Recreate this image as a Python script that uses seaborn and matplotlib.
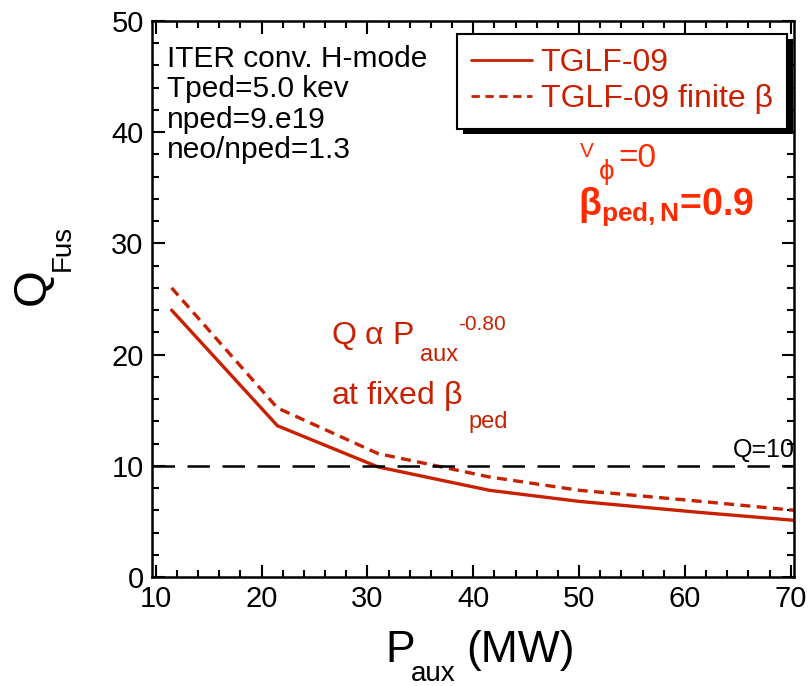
import matplotlib
matplotlib.use("Agg")
import matplotlib.pyplot as plt
import matplotlib.patches as mpatches
import seaborn as sns
import pandas as pd
from matplotlib.ticker import MultipleLocator
from matplotlib.lines import Line2D

# data
p_aux = [11.5, 21.5, 31.0, 41.5, 50.0, 61.5, 70.3]
q_tglf = [24.0, 13.6, 9.9, 7.8, 6.8, 5.8, 5.1]
q_tglf_beta = [26.0, 15.2, 11.1, 9.0, 7.8, 6.8, 6.0]
series_names = ["TGLF-09", "TGLF-09 finite β"]
x_ticks = [10, 20, 30, 40, 50, 60, 70]
y_ticks = [0, 10, 20, 30, 40, 50]
q_ref = 10

sns.set_theme(style="white")
plt.rcParams['font.family'] = ['Liberation Sans', 'DejaVu Sans']
plt.rcParams['mathtext.fontset'] = 'custom'
plt.rcParams['mathtext.rm'] = 'Liberation Sans'
plt.rcParams['mathtext.it'] = 'Liberation Sans'
plt.rcParams['mathtext.bf'] = 'Liberation Sans:bold'
plt.rcParams['text.color'] = 'black'
plt.rcParams['xtick.color'] = 'black'
plt.rcParams['ytick.color'] = 'black'

red = '#c82000'
bright = '#ff2a00'

W, H = 810, 686
fig = plt.figure(figsize=(W / 100, H / 100), dpi=100)
ax = fig.add_axes([152/W, 1-577/H, (794-152)/W, (577-21)/H])

def px(x, y):
    return x / W, 1 - y / H

df = pd.DataFrame({"P": p_aux * 2,
                   "Q": q_tglf + q_tglf_beta,
                   "case": [series_names[0]] * len(p_aux) + [series_names[1]] * len(p_aux)})
sns.lineplot(data=df[df.case == series_names[0]], x="P", y="Q", color=red, lw=2.4, ax=ax, legend=False)
sns.lineplot(data=df[df.case == series_names[1]], x="P", y="Q", color=red, lw=2.4, ax=ax, legend=False)
ax.lines[1].set_dashes([3, 1.9])
ax.axhline(q_ref, color='black', lw=1.8, dashes=(9, 5))

ax.set_xlim(9.65, 70.3)
ax.set_ylim(0, 50)
ax.set_xticks(x_ticks)
ax.set_yticks(y_ticks)
ax.xaxis.set_minor_locator(MultipleLocator(2))
ax.yaxis.set_minor_locator(MultipleLocator(2))
ax.tick_params(which='both', direction='in', top=True, right=True, bottom=True, left=True,
               width=1.5, color='black')
ax.tick_params(which='major', length=9, labelsize=21, pad=6, labelcolor='black')
ax.tick_params(which='minor', length=5)
for s in ax.spines.values():
    s.set_linewidth(1.8)
    s.set_color('black')
ax.set_xlabel("")
ax.set_ylabel("")

# axis labels
fig.text(*px(385, 662), "P", fontsize=32, ha='left', va='baseline')
fig.text(*px(411, 681), "aux", fontsize=20, ha='left', va='baseline')
fig.text(*px(466, 662), "(MW)", fontsize=32, ha='left', va='baseline')
fig.text(*px(33, 287), "Q", fontsize=34, ha='center', va='center', rotation=90)
fig.text(*px(63, 248), "Fus", fontsize=20, ha='center', va='center', rotation=90)

# info text
info = ["ITER conv. H-mode", "Tped=5.0 kev", "nped=9.e19", "neo/nped=1.3"]
for i, t in enumerate(info):
    fig.text(*px(167, 67 + i * 30.3), t, fontsize=21.5, va='baseline', ha='left')

# annotations
fig.text(*px(331, 344), r"Q $\alpha$ P", fontsize=23, color=red, va='baseline')
fig.text(*px(420, 361), "aux", fontsize=17, color=red, va='baseline')
fig.text(*px(458, 330), "-0.80", fontsize=15, color=red, va='baseline')
fig.text(*px(331, 404), r"at fixed $\beta$", fontsize=23, color=red, va='baseline')
fig.text(*px(468, 428), "ped", fontsize=17, color=red, va='baseline')

fig.text(*px(580, 157), "V", fontsize=15, color=bright, va='baseline')
fig.text(*px(598, 179), r"$\phi$", fontsize=20, color=bright, va='baseline')
fig.text(*px(618, 167), "=0", fontsize=24, color=bright, va='baseline')
fig.text(*px(578, 215), r"$\mathbf{\beta_{ped,N}}$=0.9", fontsize=27,
         color=bright, va='baseline', fontweight='bold')

fig.text(*px(795, 457), "Q=10", fontsize=18, ha='right', va='baseline')

# legend
handles = [Line2D([], [], color=red, lw=2.0),
           Line2D([], [], color=red, lw=2.0, dashes=(3, 2))]
leg = ax.legend(handles, series_names, loc='upper right',
                bbox_to_anchor=px(787, 34), bbox_transform=fig.transFigure,
                fontsize=23, frameon=True, fancybox=False, framealpha=1, facecolor='white',
                handlelength=1.9, handletextpad=0.28, borderpad=0.45, labelspacing=0.18,
                borderaxespad=0)
leg.get_frame().set_edgecolor('black')
leg.get_frame().set_linewidth(1.5)
leg.set_zorder(10)
for txt in leg.get_texts():
    txt.set_color(red)

fig.canvas.draw()
bb = leg.get_window_extent()
shadow = mpatches.Rectangle((bb.x0 + 6, bb.y0 - 5), bb.width, bb.height, transform=None,
                            facecolor='black', edgecolor='none', zorder=9)
ax.add_artist(shadow)
shadow.set_clip_on(False)

fig.savefig("out.png", dpi=100)
